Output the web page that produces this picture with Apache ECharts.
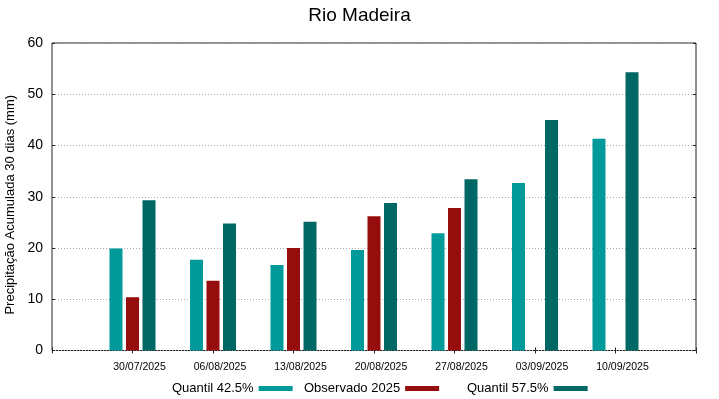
<!DOCTYPE html>
<html>
<head>
<meta charset="utf-8">
<script src="https://cdn.jsdelivr.net/npm/echarts@6/dist/echarts.min.js"></script>
<style>
html, body { margin: 0; padding: 0; background: #fff; }
#chart { width: 719px; height: 399px; }
</style>
</head>
<body>
<div id="chart"></div>
<script>
// semanas (com categorias vazias nas pontas, como no eixo do gnuplot)
var datas = ['', '30/07/2025', '06/08/2025', '13/08/2025', '20/08/2025', '27/08/2025', '03/09/2025', '10/09/2025', ''];
var q425 = ['-', 19.9, 17.7, 16.7, 19.6, 22.9, 32.7, 41.3, '-'];
var obs2025 = ['-', 10.4, 13.6, 20.0, 26.2, 27.8, '-', '-', '-'];
var q575 = ['-', 29.3, 24.8, 25.1, 28.8, 33.4, 45.0, 54.3, '-'];
var yTicks = [0, 10, 20, 30, 40, 50, 60];

var fonte = 'Liberation Sans, Arial, sans-serif';
var cores = ['#009a9a', '#960d0d', '#006864'];

var myChart = echarts.init(document.getElementById('chart'));

function legenda(nome, x) {
	return {
		data: [nome],
		left: x,
		top: 382,
		align: 'right',
		itemWidth: 34,
		itemHeight: 5,
		icon: 'rect',
		padding: 0,
		selectedMode: false,
		textStyle: { fontFamily: fonte, fontSize: 13, color: '#000' }
	};
}

var option = {
	animation: false,
	backgroundColor: '#fff',
	color: cores,
	title: {
		text: 'Rio Madeira',
		left: 'center',
		top: 1,
		textStyle: { fontFamily: fonte, fontSize: 19, fontWeight: 'normal', color: '#000' }
	},
	legend: [
		legenda('Quantil 42.5%', 172),
		legenda('Observado 2025', 304),
		legenda('Quantil 57.5%', 467)
	],
	grid: {
		left: 52, right: 23, top: 43, bottom: 48.5,
		outerBoundsMode: 'none',
		containLabel: false,
		show: true, borderColor: '#222', borderWidth: 1
	},
	xAxis: [
		{
			type: 'category',
			data: datas,
			boundaryGap: false,
			axisLine: { show: false },
			axisTick: { show: true, inside: true, length: 3, lineStyle: { color: '#222' } },
			axisLabel: {
				interval: 0,
				margin: 11,
				padding: [0, 0, 0, 14],
				fontFamily: fonte,
				fontSize: 10.5,
				color: '#000'
			},
			splitLine: { show: false }
		},
		{
			type: 'category',
			data: datas,
			position: 'top',
			boundaryGap: false,
			axisLine: { show: false },
			axisTick: { show: true, inside: true, length: 3, lineStyle: { color: '#222' } },
			axisLabel: { show: false }
		}
	],
	yAxis: [
		{
			type: 'value',
			min: 0,
			max: 60,
			interval: 10,
			name: 'Precipitação Acumulada 30 dias (mm)',
			nameLocation: 'middle',
			nameGap: 29,
			nameTextStyle: { fontFamily: fonte, fontSize: 13, color: '#000', padding: [0, 16, 0, 0] },
			axisLine: { show: false },
			axisTick: { show: true, inside: true, length: 3, lineStyle: { color: '#222' } },
			axisLabel: {
				margin: 9,
				fontFamily: fonte,
				fontSize: 14,
				color: '#000',
				customValues: yTicks
			},
			splitLine: { show: true, lineStyle: { color: '#aaa', type: [1, 2], width: 1 } }
		},
		{
			type: 'value',
			min: 0,
			max: 60,
			interval: 10,
			position: 'right',
			axisLine: { show: false },
			axisTick: { show: true, inside: true, length: 3, lineStyle: { color: '#222' } },
			axisLabel: { show: false },
			splitLine: { show: false }
		}
	],
	series: [
		{ name: 'Quantil 42.5%', type: 'bar', data: q425, barWidth: 13, barGap: '27%' },
		{ name: 'Observado 2025', type: 'bar', data: obs2025, barWidth: 13, barGap: '27%' },
		{ name: 'Quantil 57.5%', type: 'bar', data: q575, barWidth: 13, barGap: '27%' }
	]
};

myChart.setOption(option);
</script>
</body>
</html>
